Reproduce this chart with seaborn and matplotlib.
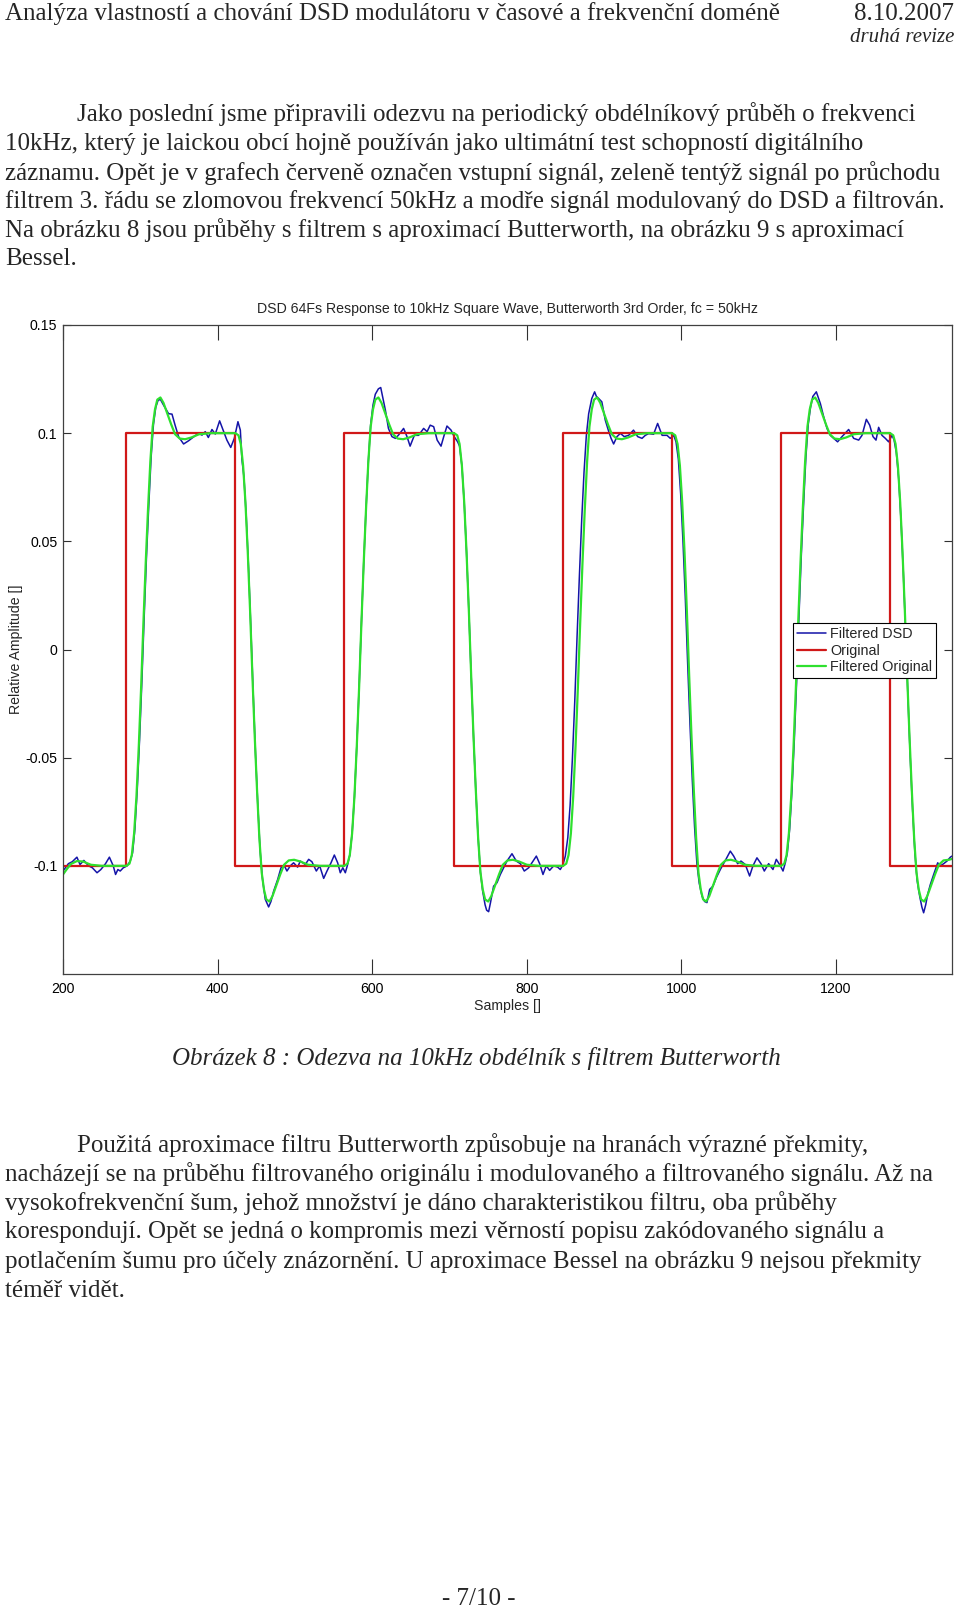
import matplotlib
matplotlib.use("Agg")
import matplotlib.pyplot as plt
import seaborn as sns
import pandas as pd

# ---------------- data ----------------
original_samples = [200, 282, 423, 564, 706, 847, 988, 1129, 1270, 1350]
original_values = [-0.1, 0.1, -0.1, 0.1, -0.1, 0.1, -0.1, 0.1, -0.1, -0.1]

green_samples = [
    200, 205, 210, 218, 226, 236, 250,
    282, 286, 289, 292, 295, 298, 301, 304, 307, 310, 313, 316, 319, 322, 326, 330, 335, 340, 345, 351, 358, 366, 376, 391,
    423, 427, 430, 433, 436, 439, 442, 445, 448, 451, 454, 457, 460, 463, 467, 471, 476, 481, 486, 492, 499, 507, 517, 532,
    564, 568, 571, 574, 577, 580, 583, 586, 589, 592, 595, 598, 601, 604, 608, 612, 617, 622, 627, 633, 640, 648, 658, 673,
    706, 710, 713, 716, 719, 722, 725, 728, 731, 734, 737, 740, 743, 746, 750, 754, 759, 764, 769, 775, 782, 790, 800, 815,
    847, 851, 854, 857, 860, 863, 866, 869, 872, 875, 878, 881, 884, 887, 891, 895, 900, 905, 910, 916, 923, 931, 941, 956,
    988, 992, 995, 998, 1001, 1004, 1007, 1010, 1013, 1016, 1019, 1022, 1025, 1028, 1032, 1036, 1041, 1046, 1051, 1057, 1064, 1072, 1082, 1097,
    1129, 1133, 1136, 1139, 1142, 1145, 1148, 1151, 1154, 1157, 1160, 1163, 1166, 1169, 1173, 1177, 1182, 1187, 1192, 1198, 1205, 1213, 1223, 1238,
    1270, 1274, 1277, 1280, 1283, 1286, 1289, 1292, 1295, 1298, 1301, 1304, 1307, 1310, 1314, 1318, 1323, 1328, 1333, 1339, 1346, 1350,
]
green_values = [
    -0.104, -0.1015, -0.0992, -0.0978, -0.098, -0.0995, -0.100,
    -0.100, -0.099, -0.095, -0.085, -0.068, -0.045, -0.018, 0.012, 0.040, 0.065, 0.087, 0.103, 0.111, 0.1155, 0.1165, 0.114, 0.109, 0.104, 0.0995, 0.0975, 0.0972, 0.098, 0.0995, 0.100,
    0.100, 0.099, 0.095, 0.085, 0.068, 0.045, 0.018, -0.012, -0.040, -0.065, -0.087, -0.103, -0.111, -0.1155, -0.1165, -0.114, -0.109, -0.104, -0.0995, -0.0975, -0.0972, -0.098, -0.0995, -0.100,
    -0.100, -0.099, -0.095, -0.085, -0.068, -0.045, -0.018, 0.012, 0.040, 0.065, 0.087, 0.103, 0.111, 0.1155, 0.1165, 0.114, 0.109, 0.104, 0.0995, 0.0975, 0.0972, 0.098, 0.0995, 0.100,
    0.100, 0.099, 0.095, 0.085, 0.068, 0.045, 0.018, -0.012, -0.040, -0.065, -0.087, -0.103, -0.111, -0.1155, -0.1165, -0.114, -0.109, -0.104, -0.0995, -0.0975, -0.0972, -0.098, -0.0995, -0.100,
    -0.100, -0.099, -0.095, -0.085, -0.068, -0.045, -0.018, 0.012, 0.040, 0.065, 0.087, 0.103, 0.111, 0.1155, 0.1165, 0.114, 0.109, 0.104, 0.0995, 0.0975, 0.0972, 0.098, 0.0995, 0.100,
    0.100, 0.099, 0.095, 0.085, 0.068, 0.045, 0.018, -0.012, -0.040, -0.065, -0.087, -0.103, -0.111, -0.1155, -0.1165, -0.114, -0.109, -0.104, -0.0995, -0.0975, -0.0972, -0.098, -0.0995, -0.100,
    -0.100, -0.099, -0.095, -0.085, -0.068, -0.045, -0.018, 0.012, 0.040, 0.065, 0.087, 0.103, 0.111, 0.1155, 0.1165, 0.114, 0.109, 0.104, 0.0995, 0.0975, 0.0972, 0.098, 0.0995, 0.100,
    0.100, 0.099, 0.095, 0.085, 0.068, 0.045, 0.018, -0.012, -0.040, -0.065, -0.087, -0.103, -0.111, -0.1155, -0.1165, -0.114, -0.109, -0.104, -0.0995, -0.0975, -0.0972, -0.0968,
]

blue_samples = [
    200, 207, 212, 218, 222, 227, 233, 238, 244, 249, 255, 260, 265, 268, 271, 274, 278, 283, 287,
    290, 293, 296, 299, 302, 305, 308, 311, 314, 317, 320, 323, 326, 330,
    336.6, 341, 345, 349.6, 356, 362.5, 369, 375.5, 379.8, 384, 388, 392.7, 397, 402.6, 407.8, 412, 417, 421.6, 426.3, 429.4, 431.5,
    434, 437, 440, 443, 446, 449, 452, 455, 458, 461.7, 466, 469, 472.5, 477.7, 482, 486.3, 489.7, 494, 498.3, 503.5, 507,
    513.4, 517.8, 522, 527.7, 532, 537.2, 541.5, 546.7, 551, 555.3, 558.7, 562, 565.2, 568.2,
    571, 574, 577, 580, 583, 586, 589, 592, 595, 598, 601, 604, 608, 611, 614, 617, 621, 625.5, 630, 634, 640.6, 645, 649,
    654.5, 660, 666.5, 671, 675, 679.5, 684, 689, 693, 696.7, 702, 706, 710.5,
    713, 716, 719, 722, 725, 728, 731, 734, 737, 740, 743, 746, 748, 750.6, 753, 757, 761.4, 765.7, 770, 774.3, 780.8, 786.4,
    791.6, 796.7, 802.4, 807.5, 812.3, 816.6, 820.9, 825.2, 829.5, 834.7, 839.9, 843.3, 846.8, 849.8,
    853, 856, 859, 862, 865, 868, 871, 874, 877, 880, 884, 887.7, 890, 893, 897, 901.5, 906, 909, 912.3, 916.6, 921, 926,
    931.7, 938, 943.4, 949, 953.3, 957.6, 964, 969.2, 975, 981.3, 985.6, 990,
    993, 996, 999, 1002, 1005, 1008, 1011, 1014, 1017, 1020, 1023, 1026.6, 1030, 1033, 1036.5, 1040.8, 1045.1, 1050.3, 1056.8,
    1063.2, 1067.6, 1072.7, 1077, 1082.6, 1088.2, 1092.5, 1097.7, 1102.9, 1107.2, 1112.8, 1118.4, 1122.7, 1128, 1131.4, 1134.4,
    1137, 1140, 1143, 1146, 1149, 1152, 1155, 1158, 1161, 1164, 1167, 1170, 1174.5, 1179.7, 1184, 1188.3, 1192.6, 1197, 1202,
    1207.7, 1216.3, 1222.8, 1229.3, 1233.6, 1239.2, 1243.5, 1247.8, 1251.7, 1255.1, 1259.4, 1263.8, 1268, 1272.4,
    1275, 1278, 1281, 1284, 1287, 1290, 1293, 1296, 1299, 1302, 1305, 1308.2, 1311, 1313.3, 1316, 1318.5, 1322, 1326.3,
    1331.5, 1335, 1339.2, 1343.5, 1347.9, 1350,
]
blue_values = [
    -0.1024, -0.099, -0.0981, -0.096, -0.0994, -0.0975, -0.100, -0.1009, -0.1032, -0.1017, -0.099, -0.096, -0.100, -0.104, -0.1017, -0.1024, -0.1009, -0.100, -0.0978,
    -0.094, -0.083, -0.065, -0.042, -0.015, 0.015, 0.043, 0.067, 0.089, 0.104, 0.112, 0.1152, 0.1156, 0.113,
    0.109, 0.1088, 0.1037, 0.0983, 0.095, 0.0965, 0.0983, 0.100, 0.0991, 0.1007, 0.098, 0.1017, 0.0996, 0.1057, 0.1007, 0.0968, 0.0934, 0.0976, 0.1053, 0.1014, 0.0876,
    0.080, 0.062, 0.038, 0.010, -0.020, -0.048, -0.072, -0.093, -0.106, -0.1155, -0.119, -0.1165, -0.1117, -0.1063, -0.1009, -0.100, -0.1024, -0.100, -0.0986, -0.1006, -0.0978,
    -0.0994, -0.097, -0.0981, -0.1024, -0.100, -0.1058, -0.1024, -0.0986, -0.095, -0.0986, -0.1032, -0.1009, -0.1032, -0.0994,
    -0.095, -0.085, -0.068, -0.045, -0.018, 0.012, 0.040, 0.065, 0.087, 0.104, 0.113, 0.118, 0.1205, 0.1211, 0.116, 0.1107, 0.1022, 0.0984, 0.0976, 0.0991, 0.1022, 0.0984, 0.094,
    0.099, 0.099, 0.1022, 0.1007, 0.1037, 0.103, 0.0968, 0.094, 0.099, 0.1033, 0.1014, 0.0984, 0.096,
    0.094, 0.085, 0.068, 0.045, 0.018, -0.012, -0.040, -0.065, -0.087, -0.103, -0.112, -0.118, -0.1205, -0.1212, -0.117, -0.1094, -0.1078, -0.104, -0.1009, -0.0978, -0.0944, -0.0978,
    -0.099, -0.1024, -0.1009, -0.0981, -0.0955, -0.099, -0.104, -0.100, -0.1021, -0.100, -0.1006, -0.1017, -0.0994, -0.0955,
    -0.087, -0.072, -0.050, -0.024, 0.006, 0.034, 0.060, 0.082, 0.099, 0.109, 0.116, 0.1191, 0.117, 0.116, 0.1145, 0.106, 0.1007, 0.0976, 0.095, 0.0984, 0.0999, 0.0984,
    0.099, 0.1014, 0.0984, 0.0976, 0.099, 0.0998, 0.0995, 0.1045, 0.099, 0.099, 0.0976, 0.099,
    0.096, 0.088, 0.072, 0.050, 0.024, -0.006, -0.034, -0.060, -0.082, -0.099, -0.108, -0.114, -0.1165, -0.117, -0.1109, -0.1094, -0.1055, -0.1017, -0.0975,
    -0.0932, -0.0955, -0.099, -0.0978, -0.0994, -0.1047, -0.100, -0.0963, -0.099, -0.1024, -0.099, -0.1017, -0.097, -0.100, -0.1024, -0.0986,
    -0.094, -0.083, -0.065, -0.042, -0.015, 0.015, 0.043, 0.067, 0.089, 0.104, 0.112, 0.117, 0.1191, 0.1137, 0.1076, 0.1022, 0.099, 0.0976, 0.096,
    0.0984, 0.1017, 0.0976, 0.0968, 0.099, 0.1064, 0.1037, 0.0984, 0.0968, 0.1027, 0.099, 0.0976, 0.096, 0.099,
    0.097, 0.091, 0.079, 0.060, 0.036, 0.008, -0.022, -0.050, -0.074, -0.094, -0.107, -0.114, -0.119, -0.1217, -0.118, -0.1132, -0.1086, -0.104,
    -0.0986, -0.100, -0.099, -0.0978, -0.096, -0.0955,
]

x_ticks = [200, 400, 600, 800, 1000, 1200]
y_ticks = [-0.1, -0.05, 0, 0.05, 0.1, 0.15]
y_tick_labels = ["-0.1", "-0.05", "0", "0.05", "0.1", "0.15"]

chart_title = "DSD 64Fs Response to 10kHz Square Wave, Butterworth 3rd Order, fc = 50kHz"
x_label = "Samples []"
y_label = "Relative Amplitude []"
series_names = ["Filtered DSD", "Original", "Filtered Original"]

header_left = "Analýza vlastností a chování DSD modulátoru v časové a frekvenční doméně"
header_date = "8.10.2007"
header_rev = "druhá revize"
para1 = [
    "Jako poslední jsme připravili odezvu na periodický obdélníkový průběh o frekvenci",
    "10kHz, který je laickou obcí hojně používán jako ultimátní test schopností digitálního",
    "záznamu. Opět je v grafech červeně označen vstupní signál, zeleně tentýž signál po průchodu",
    "filtrem 3. řádu se zlomovou frekvencí 50kHz a modře signál modulovaný do DSD a filtrován.",
    "Na obrázku 8 jsou průběhy s filtrem s aproximací Butterworth, na obrázku 9 s aproximací",
    "Bessel.",
]
caption = "Obrázek 8 : Odezva na 10kHz obdélník s filtrem Butterworth"
para2 = [
    "Použitá aproximace filtru Butterworth způsobuje na hranách výrazné překmity,",
    "nacházejí se na průběhu filtrovaného originálu i modulovaného a filtrovaného signálu. Až na",
    "vysokofrekvenční šum, jehož množství je dáno charakteristikou filtru, oba průběhy",
    "korespondují. Opět se jedná o kompromis mezi věrností popisu zakódovaného signálu a",
    "potlačením šumu pro účely znázornění. U aproximace Bessel na obrázku 9 nejsou překmity",
    "téměř vidět.",
]
page_number = "- 7/10 -"

# ---------------- figure ----------------
sns.set_style("white")
plt.rcParams["font.family"] = ["Liberation Sans", "DejaVu Sans"]

W, H = 960, 1611
fig = plt.figure(figsize=(W / 100, H / 100), dpi=100)
fig.patch.set_facecolor("white")

def fx(px):
    return px / W

def fy(py):
    return 1 - py / H

ax_l, ax_r, ax_t, ax_b = 63, 952, 325, 974
ax = fig.add_axes([fx(ax_l), fy(ax_b), (ax_r - ax_l) / W, (ax_b - ax_t) / H])

df_blue = pd.DataFrame({"Samples": blue_samples, "Amplitude": blue_values})
df_red = pd.DataFrame({"Samples": original_samples, "Amplitude": original_values})
df_green = pd.DataFrame({"Samples": green_samples, "Amplitude": green_values})

sns.lineplot(data=df_blue, x="Samples", y="Amplitude", ax=ax, color="#1414a8",
             linewidth=1.1, estimator=None, sort=False, label=series_names[0])
sns.lineplot(data=df_red, x="Samples", y="Amplitude", ax=ax, color="#d01818",
             linewidth=1.6, estimator=None, sort=False, drawstyle="steps-post",
             label=series_names[1])
sns.lineplot(data=df_green, x="Samples", y="Amplitude", ax=ax, color="#2ee02e",
             linewidth=1.6, estimator=None, sort=False, label=series_names[2])

ax.set_xlim(200, 1350)
ax.set_ylim(-0.15, 0.15)
ax.set_xticks(x_ticks)
ax.set_xticklabels([str(v) for v in x_ticks], fontsize=10.2)
ax.set_yticks(y_ticks)
ax.set_yticklabels(y_tick_labels, fontsize=10.2)
ax.tick_params(axis="x", direction="in", length=11, width=0.8, top=True, bottom=True,
               pad=6, colors="#303030", labelcolor="black")
ax.tick_params(axis="y", direction="in", length=6, width=0.8, left=True, right=True,
               pad=4, colors="#303030", labelcolor="black")
for s in ax.spines.values():
    s.set_visible(True)
    s.set_color("#404040")
    s.set_linewidth(0.9)
ax.set_title(chart_title, fontsize=10.2, pad=9)
ax.set_xlabel(x_label, fontsize=10.2, labelpad=2)
ax.set_ylabel(y_label, fontsize=10.2)
ax.yaxis.set_label_coords((23 - ax_l) / (ax_r - ax_l), 0.5)

leg = ax.legend(loc="upper left", bbox_to_anchor=((793 - ax_l) / (ax_r - ax_l), (ax_b - 623) / (ax_b - ax_t)),
                fontsize=10.4, frameon=True, fancybox=False, framealpha=1, edgecolor="black",
                handlelength=2.0, handletextpad=0.3, labelspacing=0.18, borderpad=0.28,
                borderaxespad=0)
leg.get_frame().set_linewidth(0.8)

# ---------------- page text ----------------
serif = ["Liberation Serif", "DejaVu Serif"]
fs_body = 18.0
dy = 1
fig.text(fx(5), fy(13 + dy), header_left, fontsize=fs_body, family=serif, va="center", ha="left")
fig.text(fx(954), fy(13 + dy), header_date, fontsize=fs_body, family=serif, va="center", ha="right")
fig.text(fx(954), fy(37 + dy), header_rev, fontsize=15, family=serif, style="italic", va="center", ha="right")

p1_y = [113, 143, 171.6, 200.4, 229.2, 258]
for i, (line, yy) in enumerate(zip(para1, p1_y)):
    fig.text(fx(77 if i == 0 else 5), fy(yy + dy), line, fontsize=fs_body, family=serif, va="center", ha="left")

fig.text(fx(172), fy(1057 + dy), caption, fontsize=fs_body, family=serif, style="italic", va="center", ha="left")

p2_y = [1144, 1173, 1202.5, 1231.3, 1261, 1290]
for i, (line, yy) in enumerate(zip(para2, p2_y)):
    fig.text(fx(77 if i == 0 else 5), fy(yy + dy), line, fontsize=fs_body, family=serif, va="center", ha="left")

fig.text(fx(479), fy(1598 + dy), page_number, fontsize=fs_body, family=serif, va="center", ha="center")

fig.savefig("out.png", dpi=100, facecolor="white")
